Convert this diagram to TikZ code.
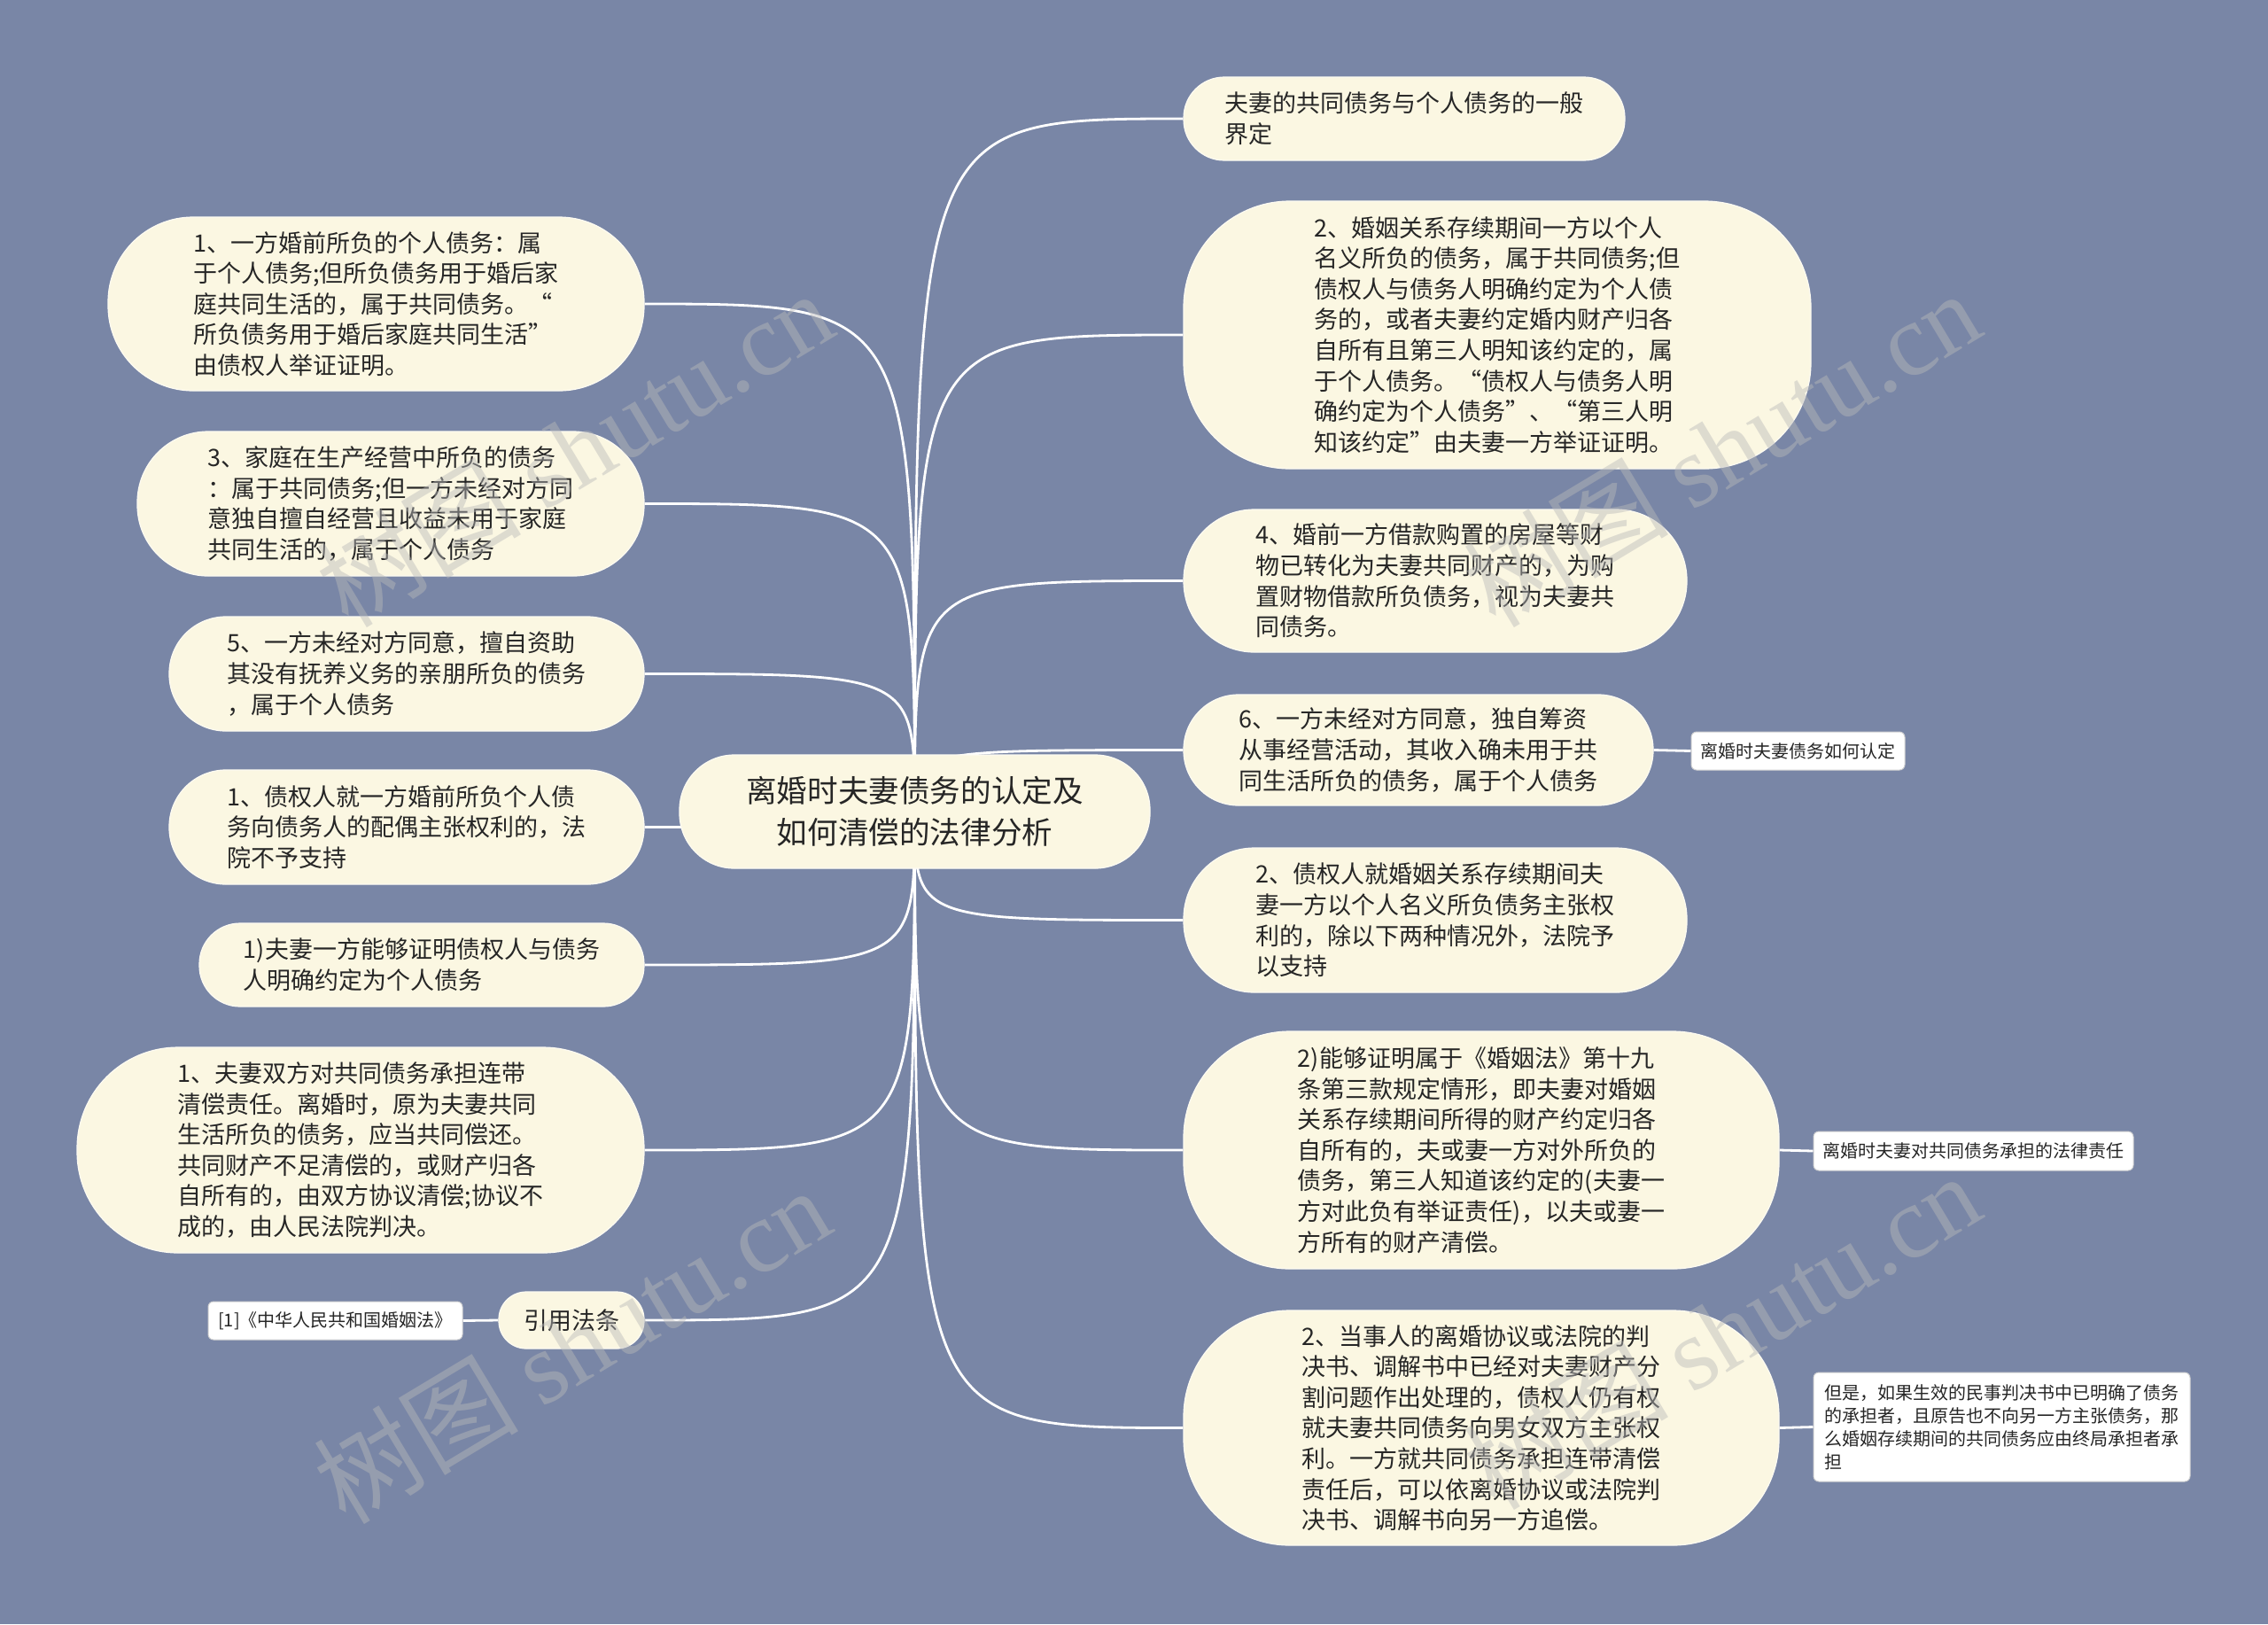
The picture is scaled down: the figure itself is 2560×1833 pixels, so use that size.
\documentclass[tikz,border=0pt]{standalone}
\usepackage{fontspec}
\setmainfont{Noto Sans CJK SC}
\newfontfamily\wmlatin{Liberation Serif}
\newfontfamily\wmcjk{Noto Sans CJK SC}
\usetikzlibrary{backgrounds}

\definecolor{bgslate}{RGB}{121,134,166}
\definecolor{pillcream}{RGB}{251,247,226}
\definecolor{inkgray}{RGB}{38,38,38}

\tikzset{
  pill/.style={fill=pillcream,draw=white!55!pillcream,line width=0.6pt,rounded corners=#1,
    inner sep=0pt,align=left,text=inkgray,font=\fontsize{13.5}{17.3}\selectfont},
  tag/.style={fill=white,draw=gray!35,line width=0.5pt,rounded corners=3pt,
    inner sep=0pt,align=left,text=inkgray,font=\fontsize{10}{13}\selectfont},
  link/.style={draw=white,line width=1.4pt},
  wmark/.style={text=gray!55,opacity=0.45,rotate=31,font=\fontsize{58}{58}\selectfont}
}

\begin{document}
\begin{tikzpicture}[x=0.5pt,y=-0.5pt]
  \useasboundingbox (0,0) rectangle (2560,1833);
  % central topic
  \node[pill=31pt,minimum width=265.5pt,minimum height=64pt,align=center,
    font=\fontsize{17.3}{23.7}\selectfont] (root) at (1032.5,916)
    {离婚时夫妻债务的认定及\\如何清偿的法律分析};
  % left branches
  \node[pill=48pt,minimum width=302.5pt,minimum height=98pt] (l1) at (424.5,343)
    {1、一方婚前所负的个人债务：属\\于个人债务;但所负债务用于婚后家\\庭共同生活的，属于共同债务。“\\所负债务用于婚后家庭共同生活”\\由债权人举证证明。};
  \node[pill=40pt,minimum width=286pt,minimum height=81.5pt] (l2) at (441,568.5)
    {3、家庭在生产经营中所负的债务\\：属于共同债务;但一方未经对方同\\意独自擅自经营且收益未用于家庭\\共同生活的，属于个人债务};
  \node[pill=32pt,minimum width=268pt,minimum height=64.5pt] (l3) at (459,760.5)
    {5、一方未经对方同意，擅自资助\\其没有抚养义务的亲朋所负的债务\\，属于个人债务};
  \node[pill=32pt,minimum width=268pt,minimum height=64.5pt] (l4) at (459,933.5)
    {1、债权人就一方婚前所负个人债\\务向债务人的配偶主张权利的，法\\院不予支持};
  \node[pill=23pt,minimum width=251pt,minimum height=47pt] (l5) at (476,1089)
    {1)夫妻一方能够证明债权人与债务\\人明确约定为个人债务};
  \node[pill=57pt,minimum width=320pt,minimum height=116pt] (l6) at (407,1298)
    {1、夫妻双方对共同债务承担连带\\清偿责任。离婚时，原为夫妻共同\\生活所负的债务，应当共同偿还。\\共同财产不足清偿的，或财产归各\\自所有的，由双方协议清偿;协议不\\成的，由人民法院判决。};
  \node[pill=15.5pt,minimum width=82pt,minimum height=32pt] (l7) at (645,1490) {引用法条};
  \node[tag,minimum width=143.5pt,minimum height=21.5pt] (l7a) at (378.5,1490.5)
    {[1]《中华人民共和国婚姻法》};
  % right branches
  \node[pill=23pt,minimum width=249pt,minimum height=47pt] (r1) at (1585,134)
    {夫妻的共同债务与个人债务的一般\\界定};
  \node[pill=60pt,minimum width=354pt,minimum height=151pt] (r2) at (1690,378)
    {2、婚姻关系存续期间一方以个人\\名义所负的债务，属于共同债务;但\\债权人与债务人明确约定为个人债\\务的，或者夫妻约定婚内财产归各\\自所有且第三人明知该约定的，属\\于个人债务。“债权人与债务人明\\确约定为个人债务”、“第三人明\\知该约定”由夫妻一方举证证明。};
  \node[pill=40pt,minimum width=284pt,minimum height=80.5pt] (r3) at (1620,655.5)
    {4、婚前一方借款购置的房屋等财\\物已转化为夫妻共同财产的，为购\\置财物借款所负债务，视为夫妻共\\同债务。};
  \node[pill=31pt,minimum width=265pt,minimum height=62.5pt] (r4) at (1601,846.5)
    {6、一方未经对方同意，独自筹资\\从事经营活动，其收入确未用于共\\同生活所负的债务，属于个人债务};
  \node[tag,minimum width=120.5pt,minimum height=21.5pt] (r4a) at (2029.5,847.5)
    {离婚时夫妻债务如何认定};
  \node[pill=40pt,minimum width=284pt,minimum height=81.5pt] (r5) at (1620,1038.5)
    {2、债权人就婚姻关系存续期间夫\\妻一方以个人名义所负债务主张权\\利的，除以下两种情况外，法院予\\以支持};
  \node[pill=60pt,minimum width=336pt,minimum height=134pt] (r6) at (1672,1298)
    {2)能够证明属于《婚姻法》第十九\\条第三款规定情形，即夫妻对婚姻\\关系存续期间所得的财产约定归各\\自所有的，夫或妻一方对外所负的\\债务，第三人知道该约定的(夫妻一\\方对此负有举证责任)，以夫或妻一\\方所有的财产清偿。};
  \node[tag,minimum width=180.5pt,minimum height=22pt] (r6a) at (2227.5,1299)
    {离婚时夫妻对共同债务承担的法律责任};
  \node[pill=60pt,minimum width=336pt,minimum height=132.5pt] (r7) at (1672,1611.5)
    {2、当事人的离婚协议或法院的判\\决书、调解书中已经对夫妻财产分\\割问题作出处理的，债权人仍有权\\就夫妻共同债务向男女双方主张权\\利。一方就共同债务承担连带清偿\\责任后，可以依离婚协议或法院判\\决书、调解书向另一方追偿。};
  \node[tag,minimum width=212.5pt,minimum height=61.5pt] (r7a) at (2259.5,1610.5)
    {但是，如果生效的民事判决书中已明确了债务\\的承担者，且原告也不向另一方主张债务，那\\么婚姻存续期间的共同债务应由终局承担者承\\担};
  % background and connectors
  \begin{scope}[on background layer]
    \fill[bgslate] (0,0) rectangle (2560,1833);
    \foreach \n in {l1,l2,l3,l4,l5,l6,l7}
      \draw[link] (root.center) .. controls (root.center |- \n.east) .. (\n.east);
    \foreach \n in {r1,r2,r3,r4,r5,r6,r7}
      \draw[link] (root.center) .. controls (root.center |- \n.west) .. (\n.west);
    \draw[link] (l7.west) -- (l7a.east);
    \draw[link] (r4.east) -- (r4a.west);
    \draw[link] (r6.east) -- (r6a.west);
    \draw[link] (r7.east) -- (r7a.west);
  \end{scope}
  % watermarks
  \node[wmark] (wm1) at (648,506) {{\wmcjk 树图} {\wmlatin shutu.cn}};
  \node[wmark] (wm2) at (1943,506) {{\wmcjk 树图} {\wmlatin shutu.cn}};
  \node[wmark] (wm3) at (645,1518) {{\wmcjk 树图} {\wmlatin shutu.cn}};
  \node[wmark] (wm4) at (1943,1502) {{\wmcjk 树图} {\wmlatin shutu.cn}};
\end{tikzpicture}
\end{document}
